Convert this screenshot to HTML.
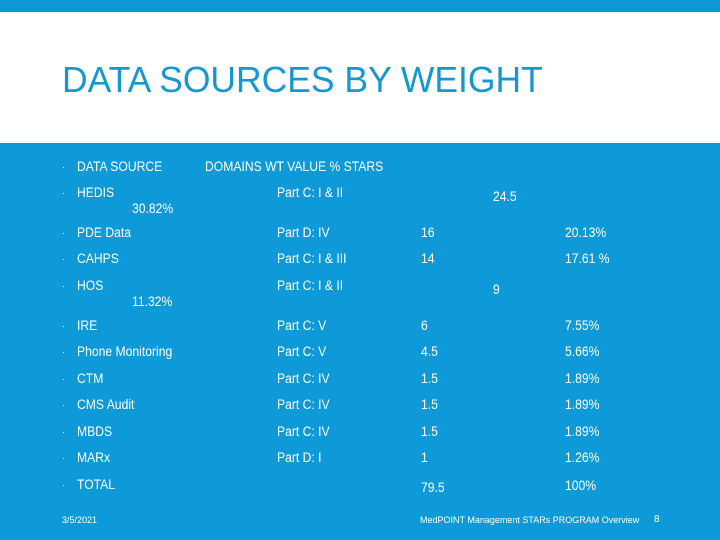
<!DOCTYPE html>
<html><head><meta charset="utf-8"><style>
body{margin:0;width:720px;height:540px;overflow:hidden;background:#0e9ad9;font-family:"Liberation Sans",sans-serif;}
.s{position:absolute;left:0;top:0;width:720px;height:540px;}
.top{position:absolute;left:0;top:0;width:720px;height:12px;background:#0e9ad9;}
.head{position:absolute;left:0;top:12px;width:720px;height:131px;background:#fff;}
.title{position:absolute;left:62px;top:59px;font-size:36px;color:#1597d4;white-space:nowrap;transform:scaleX(0.985);transform-origin:left top;letter-spacing:0;}
.t{position:absolute;color:#fff;font-size:13.5px;white-space:nowrap;line-height:16px;transform:scaleX(0.9);transform-origin:left top;}
.b{position:absolute;color:#fff;font-size:9px;line-height:16px;}
.f{position:absolute;color:#fff;font-size:9px;white-space:nowrap;transform:scaleX(1.0);transform-origin:left top;}
</style></head><body>
<div class="s">
<div class="top"></div>
<div class="head"></div>
<div class="title">DATA SOURCES BY WEIGHT</div>
<div id="rows"></div>
<div class="f" style="left:62px;top:515px">3/5/2021</div>
<div class="f" style="left:420px;top:515px">MedPOINT Management STARs PROGRAM Overview</div>
<div class="f" style="left:654px;top:514px;font-size:10px">8</div>
</div>
<script>
const sources=["DATA SOURCE","HEDIS","PDE Data","CAHPS","HOS","IRE","Phone Monitoring","CTM","CMS Audit","MBDS","MARx","TOTAL"];
const domains=["","Part C: I & II","Part D: IV","Part C: I & III","Part C: I & II","Part C: V","Part C: V","Part C: IV","Part C: IV","Part C: IV","Part D: I",""];
const weights=["","24.5","16","14","9","6","4.5","1.5","1.5","1.5","1","79.5"];
const pcts=["","30.82%","20.13%","17.61 %","11.32%","7.55%","5.66%","1.89%","1.89%","1.89%","1.26%","100%"];
const rowY=[159,185,225,251,278,318,344,371,397,424,450,477];
const root=document.getElementById('rows');
function add(txt,x,y,cls,name){
  const d=document.createElement('div');
  d.className=cls;d.textContent=txt;d.style.left=x+'px';d.style.top=y+'px';
  
  
  root.appendChild(d);
}
for(let i=0;i<sources.length;i++){
  const y=rowY[i];
  add('·',62,y,'b','bullet');
  add(sources[i],77,y,'t','source-label');
  if(i===0){add('DOMAINS  WT VALUE % STARS',205,y,'t','header-columns');continue;}
  add(domains[i],277,y,'t','domain-cell');
  const offset=(i===1||i===4);
  add(weights[i],offset?493:421,offset?y+4:y+(i===11?3:0),'t','weight-cell');
  if(offset) add(pcts[i],132,y+16,'t','percent-cell');
  else add(pcts[i],565,y+(i===11?1:0),'t','percent-cell');
}
</script>
</body></html>
